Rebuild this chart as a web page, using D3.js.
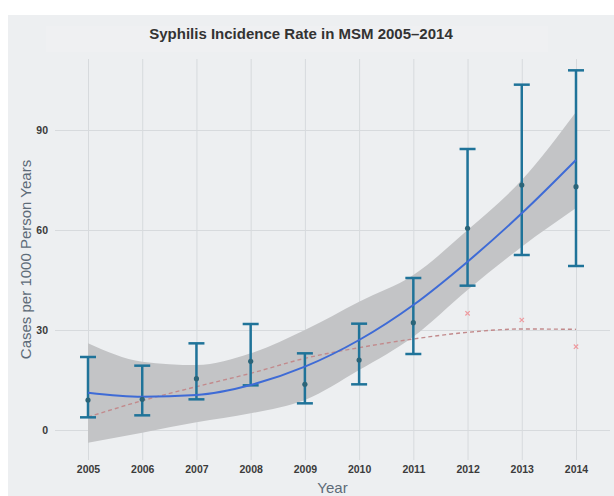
<!DOCTYPE html>
<html lang="en">
<head>
  <meta charset="UTF-8">
  <title>Syphilis Incidence Rate in MSM</title>
  <script src="https://cdn.jsdelivr.net/npm/d3@7"></script>
  <style>
    body { margin: 0; background: #fff; }
    svg { display: block; font-family: "Liberation Sans", Arial, sans-serif; }
    .tick text { font-weight: bold; font-size: 10.5px; fill: #3b3b3b; }
    .tick line { stroke: #d7dadd; }
  </style>
</head>
<body>
<div id="app"></div>
<script>
  // values
  const years = [2005, 2006, 2007, 2008, 2009, 2010, 2011, 2012, 2013, 2014];
  const rate = [9, 9.2, 15.4, 20.6, 13.7, 21, 32.2, 60.5, 73.5, 73];
  const lower = [3.8, 4.4, 9.2, 13.4, 8, 13.7, 22.8, 43.3, 52.5, 49.2];
  const upper = [21.9, 19.3, 26, 31.8, 23, 31.9, 45.6, 84.3, 103.6, 107.9];
  const fit = [11.2, 10, 10.5, 13.5, 19, 27, 37.5, 50.5, 65, 81];
  const fitLow = [-3.8, -0.8, 2.3, 5, 9, 18, 28, 42, 55, 66.6];
  const fitHigh = [26, 20.5, 19.5, 23, 30, 38.5, 46.5, 60, 75, 95.4];
  const modelLine = [3.9, 8.8, 13, 17, 21.5, 24.7, 27.3, 29.3, 30.3, 30.2];
  const modelYears = [2012, 2013, 2014];
  const modelPoints = [35, 33, 25];
  const yTicks = [0, 30, 60, 90];

  const w = 614;
  const h = 496;
  const pLeft = 55, pRight = 610, pTop = 59, pBottom = 460;

  const svg = d3.select('#app')
    .append('svg')
    .attr('width', w)
    .attr('height', h);

  svg.append('rect')
    .attr('x', 8).attr('y', 15)
    .attr('width', w - 8).attr('height', h - 15)
    .attr('fill', '#edeff1');

  svg.append('rect')
    .attr('x', 46).attr('y', 26)
    .attr('width', 502).attr('height', 26)
    .attr('fill', '#eff0f2');

  const x = d3.scaleLinear().domain([2005, 2014]).range([88, 576]);
  const y = d3.scaleLinear().domain([0, 90]).range([430, 130]);

  const xAxis = d3.axisBottom(x)
    .tickValues(years)
    .tickFormat(d3.format('d'))
    .tickSizeInner(-(pBottom - pTop))
    .tickSizeOuter(0)
    .tickPadding(6);
  const yAxis = d3.axisLeft(y)
    .tickValues(yTicks)
    .tickSizeInner(-(pRight - pLeft))
    .tickSizeOuter(0)
    .tickPadding(7);

  svg.append('g')
    .attr('transform', `translate(0, ${pBottom})`)
    .call(xAxis)
    .call(g => g.select('.domain').remove());
  svg.append('g')
    .attr('transform', `translate(${pLeft}, 0)`)
    .call(yAxis)
    .call(g => g.select('.domain').remove());

  const rows = years.map((yr, i) => ({
    yr, rate: rate[i], lo: lower[i], hi: upper[i],
    fit: fit[i], fLo: fitLow[i], fHi: fitHigh[i], model: modelLine[i]
  }));

  // confidence band
  svg.append('path')
    .datum(rows)
    .attr('fill', '#c3c4c6')
    .attr('d', d3.area()
      .x(d => x(d.yr))
      .y0(d => y(d.fLo))
      .y1(d => y(d.fHi))
      .curve(d3.curveMonotoneX));

  // model line (dashed)
  svg.append('path')
    .datum(rows)
    .attr('fill', 'none')
    .attr('stroke', '#c28a8c')
    .attr('stroke-width', 1.4)
    .attr('stroke-dasharray', '4,3')
    .attr('d', d3.line()
      .x(d => x(d.yr))
      .y(d => y(d.model))
      .curve(d3.curveMonotoneX));

  // model points
  const cross = d3.symbol().type(d3.symbolX).size(14);
  svg.selectAll('.mp')
    .data(modelYears)
    .enter()
    .append('path')
    .attr('class', 'mp')
    .attr('transform', (d, i) => `translate(${x(d)}, ${y(modelPoints[i])})`)
    .attr('d', cross)
    .attr('stroke', '#ee9a9f')
    .attr('stroke-width', 1.2)
    .attr('fill', 'none');

  // error bars
  const bars = svg.selectAll('.bar')
    .data(rows)
    .enter()
    .append('g')
    .attr('class', 'bar')
    .attr('stroke', '#1f7399')
    .attr('stroke-width', 2.5);
  bars.append('line')
    .attr('x1', d => x(d.yr)).attr('x2', d => x(d.yr))
    .attr('y1', d => y(d.lo)).attr('y2', d => y(d.hi));
  bars.append('line')
    .attr('x1', d => x(d.yr) - 8).attr('x2', d => x(d.yr) + 8)
    .attr('y1', d => y(d.hi)).attr('y2', d => y(d.hi));
  bars.append('line')
    .attr('x1', d => x(d.yr) - 8).attr('x2', d => x(d.yr) + 8)
    .attr('y1', d => y(d.lo)).attr('y2', d => y(d.lo));

  // fitted curve
  svg.append('path')
    .datum(rows)
    .attr('fill', 'none')
    .attr('stroke', '#3e6bd6')
    .attr('stroke-width', 2)
    .attr('d', d3.line()
      .x(d => x(d.yr))
      .y(d => y(d.fit))
      .curve(d3.curveMonotoneX));

  // observed means
  svg.selectAll('.pt')
    .data(rows)
    .enter()
    .append('circle')
    .attr('class', 'pt')
    .attr('cx', d => x(d.yr))
    .attr('cy', d => y(d.rate))
    .attr('r', 2.6)
    .attr('fill', '#2b6478');

  svg.append('text')
    .attr('x', 301).attr('y', 39)
    .attr('text-anchor', 'middle')
    .attr('font-size', 15).attr('font-weight', 'bold')
    .attr('fill', '#333')
    .text('Syphilis Incidence Rate in MSM 2005–2014');

  svg.append('text')
    .attr('transform', `translate(31, ${(pTop + pBottom) / 2}) rotate(-90)`)
    .attr('text-anchor', 'middle')
    .attr('font-size', 15)
    .attr('fill', '#5d6b78')
    .text('Cases per 1000 Person Years');

  svg.append('text')
    .attr('x', (pLeft + pRight) / 2).attr('y', 493)
    .attr('text-anchor', 'middle')
    .attr('font-size', 15)
    .attr('fill', '#5d6b78')
    .text('Year');
</script>
</body>
</html>
